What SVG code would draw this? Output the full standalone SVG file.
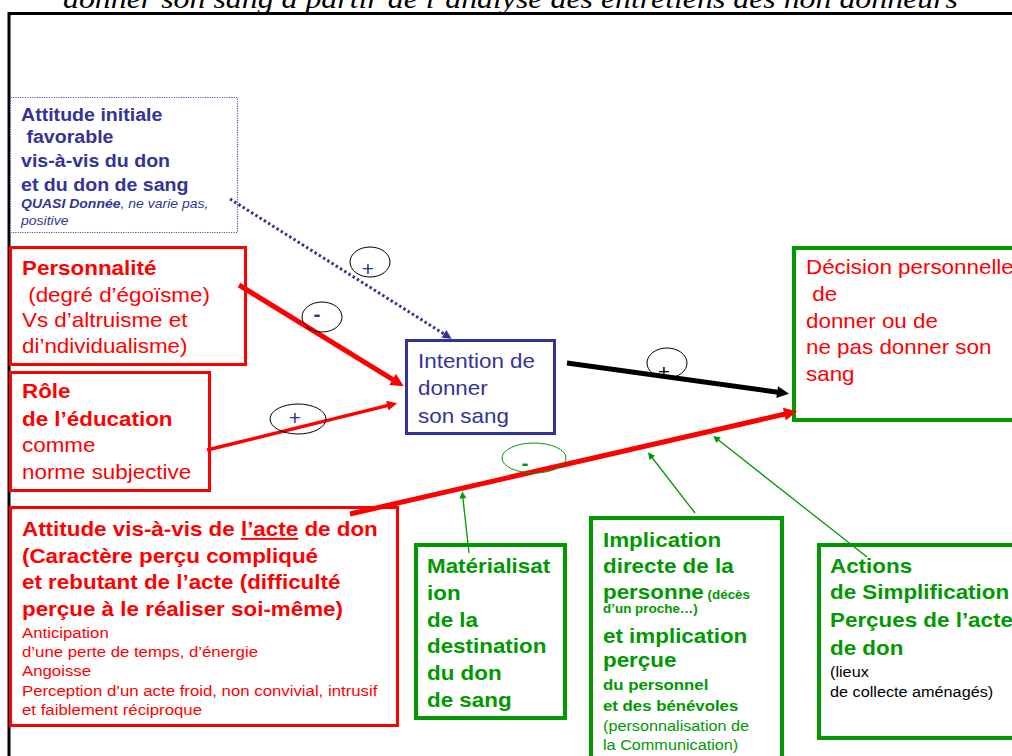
<svg xmlns="http://www.w3.org/2000/svg" width="1012" height="756" viewBox="0 0 1012 756">
<style>
  text { font-family: "Liberation Sans", Arial, sans-serif; }
  .b { font-weight: bold; }
  .L { font-size: 20px; }
  .red { fill: #ff0000; }
  .blue { fill: #333399; }
  .green { fill: #009900; }
  .rbox { fill: #ffffff; stroke: #ff0000; stroke-width: 3; }
  .gbox { fill: #ffffff; stroke: #009900; stroke-width: 4; }
  .ell { fill: none; stroke: #000000; stroke-width: 1; }
  .sign { font-size: 21px; text-anchor: middle; }
</style>
<defs>
  <marker id="hRedL" viewBox="0 0 10 10" refX="5" refY="5" markerWidth="16" markerHeight="13" markerUnits="userSpaceOnUse" orient="auto"><path d="M0,0 L10,5 L0,10 z" fill="#ff0000"/></marker>
  <marker id="hRedS" viewBox="0 0 10 10" refX="5" refY="5" markerWidth="12" markerHeight="10" markerUnits="userSpaceOnUse" orient="auto"><path d="M0,0 L10,5 L0,10 z" fill="#ff0000"/></marker>
  <marker id="hBlack" viewBox="0 0 10 10" refX="5" refY="5" markerWidth="14" markerHeight="12" markerUnits="userSpaceOnUse" orient="auto"><path d="M0,0 L10,5 L0,10 z" fill="#000000"/></marker>
  <marker id="hBlue" viewBox="0 0 10 10" refX="5" refY="5" markerWidth="10" markerHeight="9" markerUnits="userSpaceOnUse" orient="auto"><path d="M0,0 L10,5 L0,10 z" fill="#333399"/></marker>
  <marker id="hGreen" viewBox="0 0 10 10" refX="5" refY="5" markerWidth="10" markerHeight="7" markerUnits="userSpaceOnUse" orient="auto"><path d="M0,0 L10,5 L0,10 z" fill="#009900"/></marker>
</defs>
<rect x="0" y="0" width="1012" height="756" fill="#ffffff"/>
<text x="63" y="8" font-style="italic" font-size="27" textLength="895" lengthAdjust="spacingAndGlyphs" style="font-family:'Liberation Serif',serif">donner son sang à partir de l’analyse des entretiens des non donneurs</text>
<path d="M9,756 V13.5 H1012" fill="none" stroke="#000000" stroke-width="3"/>

<g id="attitude-initiale">
  <rect x="10.5" y="97.5" width="227" height="135" fill="#ffffff" stroke="#5555aa" stroke-width="1.2" stroke-dasharray="1.2 1.2"/>
  <g transform="translate(21 0) scale(1.12 1)" class="blue">
    <text x="0" y="121" class="b" font-size="17.5">Attitude initiale</text>
    <text x="0" y="143" class="b" font-size="17.5" xml:space="preserve"> favorable</text>
    <text x="0" y="167" class="b" font-size="17.5">vis-à-vis du don</text>
    <text x="0" y="191" class="b" font-size="17.5">et du don de sang</text>
    <text x="0" y="208" font-size="12.5" font-style="italic"><tspan font-weight="bold">QUASI Donnée</tspan>, ne varie pas,</text>
    <text x="0" y="225" font-size="12.5" font-style="italic">positive</text>
  </g>
</g>

<g id="personnalite">
  <rect x="10.5" y="247.5" width="235" height="117" class="rbox"/>
  <g transform="translate(22 0) scale(1.12 1)" class="red L">
    <text x="0" y="275" class="b">Personnalité</text>
    <text x="0" y="302" xml:space="preserve"> (degré d’égoïsme)</text>
    <text x="0" y="327">Vs d’altruisme et</text>
    <text x="0" y="353">di’ndividualisme)</text>
  </g>
</g>

<g id="role-education">
  <rect x="10.5" y="372.5" width="199" height="118" class="rbox"/>
  <g transform="translate(22 0) scale(1.12 1)" class="red L">
    <text x="0" y="398" class="b">Rôle</text>
    <text x="0" y="426" class="b">de l’éducation</text>
    <text x="0" y="452">comme</text>
    <text x="0" y="479">norme subjective</text>
  </g>
</g>

<g id="attitude-acte">
  <rect x="10.5" y="507.5" width="387" height="218" class="rbox" stroke-width="3.5"/>
  <g transform="translate(22 0) scale(1.12 1)" class="red">
    <text x="0" y="536" class="b L">Attitude vis-à-vis de <tspan text-decoration="underline">l’acte</tspan> de don</text>
    <text x="0" y="563" class="b L">(Caractère perçu compliqué</text>
    <text x="0" y="589" class="b L">et rebutant de l’acte (difficulté</text>
    <text x="0" y="616" class="b L">perçue à le réaliser soi-même)</text>
    <text x="0" y="638" font-size="15">Anticipation</text>
    <text x="0" y="657" font-size="15">d’une perte de temps, d’énergie</text>
    <text x="0" y="676" font-size="15">Angoisse</text>
    <text x="0" y="696" font-size="15">Perception d’un acte froid, non convivial, intrusif</text>
    <text x="0" y="715" font-size="15">et faiblement réciproque</text>
  </g>
</g>

<g id="intention">
  <rect x="406.5" y="340.5" width="148" height="93" fill="#ffffff" stroke="#333399" stroke-width="3"/>
  <g transform="translate(418 0) scale(1.12 1)" class="blue L">
    <text x="0" y="368">Intention de</text>
    <text x="0" y="395">donner</text>
    <text x="0" y="423">son sang</text>
  </g>
</g>

<g id="decision">
  <rect x="794" y="248" width="240" height="172" class="gbox"/>
  <g transform="translate(806 0) scale(1.12 1)" class="red L">
    <text x="0" y="274">Décision personnelle</text>
    <text x="0" y="301" xml:space="preserve"> de</text>
    <text x="0" y="328">donner ou de</text>
    <text x="0" y="354">ne pas donner son</text>
    <text x="0" y="381">sang</text>
  </g>
</g>

<g id="materialisation">
  <rect x="416" y="545" width="149" height="173" class="gbox"/>
  <g transform="translate(427 0) scale(1.12 1)" class="green b L">
    <text x="0" y="573">Matérialisat</text>
    <text x="0" y="600">ion</text>
    <text x="0" y="627">de la</text>
    <text x="0" y="653">destination</text>
    <text x="0" y="680">du don</text>
    <text x="0" y="707">de sang</text>
  </g>
</g>

<g id="implication">
  <rect x="591" y="518" width="191" height="260" class="gbox"/>
  <g transform="translate(603 0) scale(1.12 1)" class="green">
    <text x="0" y="547" class="b L">Implication</text>
    <text x="0" y="573" class="b L">directe de la</text>
    <text x="0" y="599" class="b"><tspan font-size="20">personne</tspan><tspan font-size="12"> (décès</tspan></text>
    <text x="0" y="613" class="b" font-size="12">d’un proche…)</text>
    <text x="0" y="643" class="b L">et implication</text>
    <text x="0" y="667" class="b L">perçue</text>
    <text x="0" y="690" class="b" font-size="15">du personnel</text>
    <text x="0" y="711" class="b" font-size="15">et des bénévoles</text>
    <text x="0" y="731" font-size="14.5">(personnalisation de</text>
    <text x="0" y="750" font-size="14.5">la Communication)</text>
  </g>
</g>

<g id="actions">
  <rect x="819" y="545" width="220" height="193" class="gbox"/>
  <g transform="translate(830 0) scale(1.12 1)">
    <text x="0" y="573" class="green b L">Actions</text>
    <text x="0" y="599" class="green b L">de Simplification</text>
    <text x="0" y="627" class="green b L">Perçues de l’acte</text>
    <text x="0" y="655" class="green b L">de don</text>
    <text x="0" y="677" font-size="14.5" fill="#000000">(lieux</text>
    <text x="0" y="697" font-size="14.5" fill="#000000">de collecte aménagés)</text>
  </g>
</g>

<g id="connectors">
  <line x1="230" y1="199" x2="447.8" y2="336.3" stroke="#333399" stroke-width="3" stroke-dasharray="2.5 2.5" marker-end="url(#hBlue)"/>
  <line x1="239" y1="285" x2="398.2" y2="382.8" stroke="#ff0000" stroke-width="5" marker-end="url(#hRedL)"/>
  <line x1="207" y1="450" x2="392.2" y2="404.4" stroke="#ff0000" stroke-width="3.5" marker-end="url(#hRedS)"/>
  <line x1="567" y1="363" x2="783.1" y2="393" stroke="#000000" stroke-width="5" marker-end="url(#hBlack)"/>
  <line x1="350" y1="514" x2="790.7" y2="412.7" stroke="#ff0000" stroke-width="5" marker-end="url(#hRedL)"/>
  <line x1="469" y1="553" x2="462.55" y2="495" stroke="#009900" stroke-width="1.3" marker-end="url(#hGreen)"/>
  <line x1="695" y1="513" x2="650.1" y2="455" stroke="#009900" stroke-width="1.3" marker-end="url(#hGreen)"/>
  <line x1="867" y1="557" x2="715.9" y2="438.1" stroke="#009900" stroke-width="1.3" marker-end="url(#hGreen)"/>
</g>

<g id="signs">
  <ellipse cx="370" cy="262" rx="20" ry="15" class="ell"/>
  <text x="368" y="276" class="sign blue">+</text>
  <ellipse cx="322" cy="317" rx="20" ry="15" class="ell"/>
  <text x="317" y="321" class="sign blue b">-</text>
  <ellipse cx="298" cy="419" rx="28" ry="15" class="ell"/>
  <text x="295" y="425" class="sign blue">+</text>
  <ellipse cx="667" cy="363" rx="20" ry="15" class="ell"/>
  <text x="664" y="379" class="sign" fill="#000000">+</text>
  <ellipse cx="534" cy="458" rx="32" ry="15" fill="none" stroke="#009900" stroke-width="1"/>
  <text x="525" y="470" class="sign green b">-</text>
</g>
</svg>
